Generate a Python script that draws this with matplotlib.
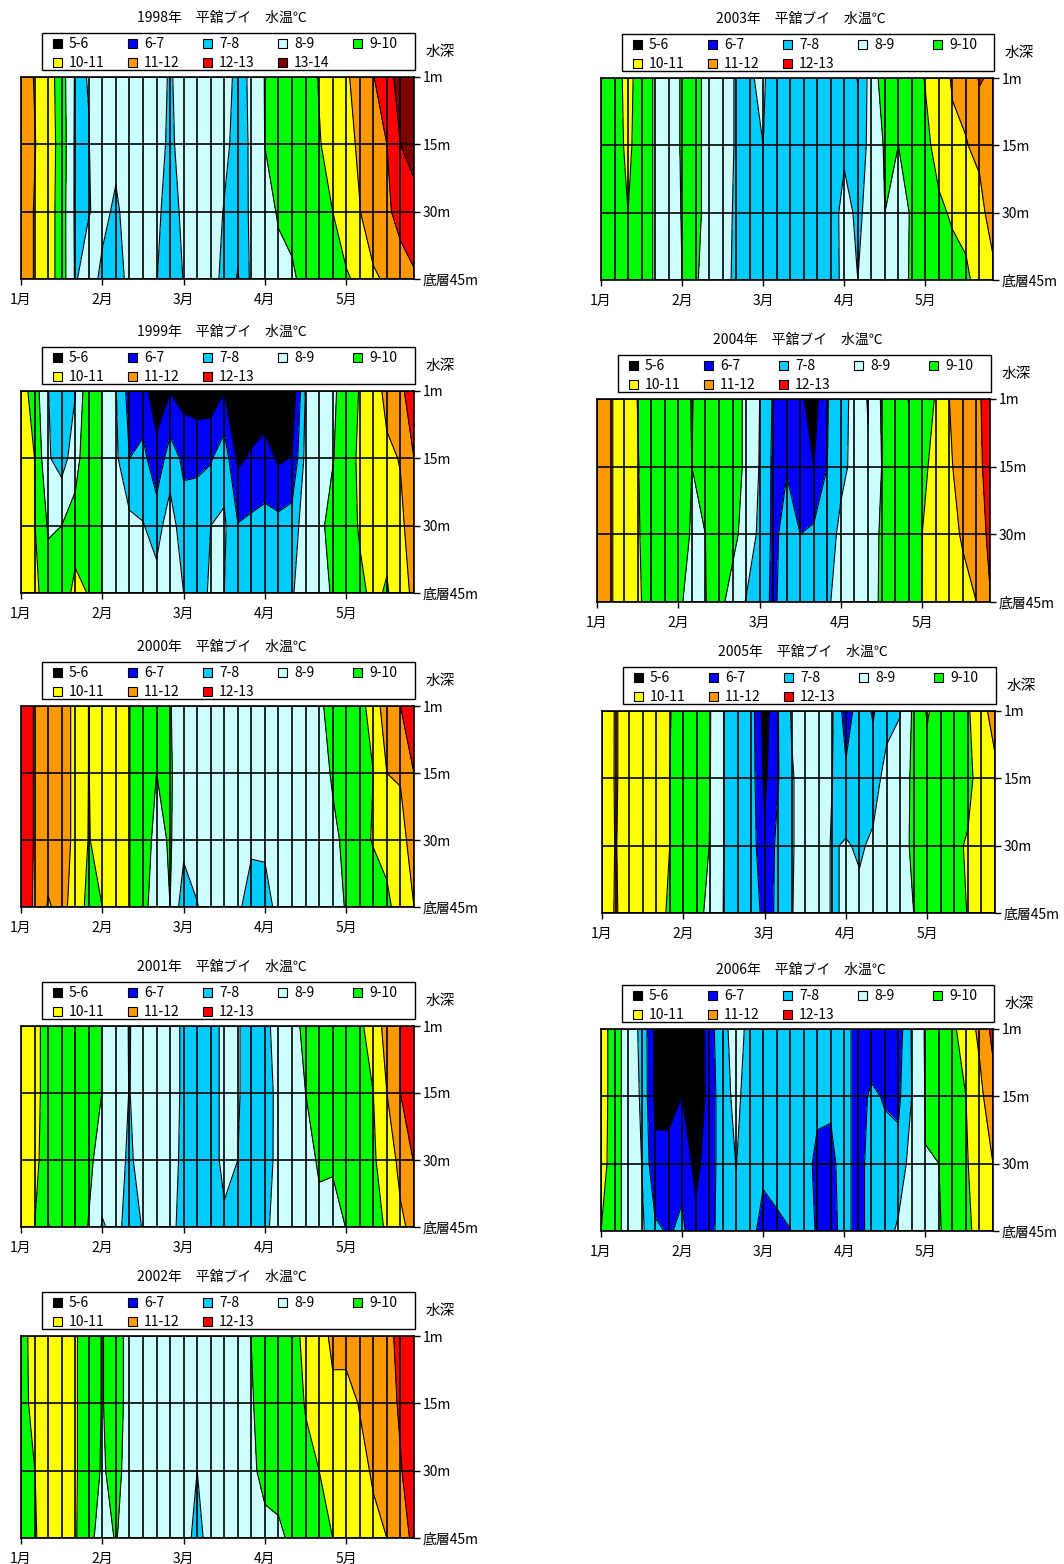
import numpy as np
import matplotlib.pyplot as plt
from matplotlib.patches import Rectangle

plt.rcParams['font.family'] = ['Noto Sans CJK JP', 'DejaVu Sans']

# 軸・凡例
months = ['1月', '2月', '3月', '4月', '5月']
month_pos = [0, 6, 12, 18, 24]
depth_labels = ['1m', '15m', '30m', '底層45m']
band_labels = ['5-6', '6-7', '7-8', '8-9', '9-10', '10-11', '11-12', '12-13', '13-14']
band_colors = ['#000000', '#0000ff', '#00ccff', '#ccffff', '#00ff00',
               '#ffff00', '#ff9900', '#ff0000', '#800000']
levels = list(range(5, 15))

# 水温 (半旬ごと, 1月1半旬〜5月6半旬), 行 = 1m, 15m, 30m, 45m
t1998 = [
    [11.5, 10.95, 10.5, 9.45, 7.9, 8.02, 8.4, 8.5, 8.5, 8.5, 8.4, 7.9, 8.4, 8.5, 8.5, 8.3, 7.8, 8.1, 9.05, 9.4, 9.6, 9.6, 10.05, 10.4, 10.9, 11.3, 11.95, 12.8, 13.2, 13.8],
    [11.5, 11.05, 10.5, 9.6, 7.85, 7.98, 8.4, 8.3, 8.5, 8.5, 8.4, 7.8, 8.4, 8.5, 8.5, 8.2, 7.7, 8.1, 9.02, 9.3, 9.5, 9.6, 9.95, 10.3, 10.8, 11.1, 11.6, 12.0, 13.0, 13.5],
    [11.5, 10.95, 10.5, 9.5, 7.85, 7.95, 8.3, 7.8, 8.5, 8.5, 8.25, 7.5, 8.25, 8.5, 8.4, 7.95, 7.5, 8.15, 8.6, 9.1, 9.3, 9.5, 9.6, 10.0, 10.5, 10.98, 11.4, 11.85, 12.3, 12.5],
    [11.5, 10.95, 10.5, 9.5, 7.9, 8.5, 7.75, 7.5, 8.3, 8.4, 8.05, 7.2, 8.05, 8.5, 8.15, 7.9, 6.9, 8.2, 8.3, 8.7, 8.85, 9.3, 9.4, 9.6, 9.9, 10.2, 10.9, 11.1, 11.6, 11.9],
]
t1999 = [
    [10.5, 9.5, 8.02, 7.5, 7.95, 9.8, 8.95, 8.05, 6.6, 6.3, 5.5, 5.95, 5.6, 5.4, 5.4, 5.95, 5.0, 5.2, 5.3, 5.0, 5.2, 8.1, 8.6, 8.8, 9.5, 10.05, 10.5, 11.3, 11.8, 12.5],
    [10.5, 10.0, 8.1, 7.6, 8.5, 9.95, 8.95, 8.2, 7.0, 7.3, 6.3, 7.5, 6.8, 6.8, 6.9, 7.6, 5.8, 6.15, 6.4, 5.85, 6.05, 8.3, 8.7, 8.95, 9.5, 10.2, 10.6, 10.8, 11.05, 12.0],
    [10.5, 10.05, 8.9, 9.0, 9.5, 9.95, 8.95, 8.6, 8.3, 8.05, 7.6, 8.5, 7.4, 7.5, 8.0, 8.15, 7.05, 7.2, 7.3, 7.3, 7.5, 8.5, 8.8, 9.3, 9.5, 10.1, 10.5, 10.3, 10.8, 11.5],
    [10.5, 10.3, 9.4, 9.4, 10.3, 9.95, 8.95, 8.7, 8.6, 8.5, 8.4, 8.7, 8.0, 7.7, 8.1, 8.0, 7.5, 7.5, 7.5, 7.5, 7.9, 8.6, 8.8, 9.05, 9.5, 9.8, 10.2, 9.9, 10.6, 11.2],
]
t2000 = [
    [12.5, 11.95, 11.5, 11.4, 10.8, 9.98, 10.5, 10.5, 10.02, 9.5, 9.3, 9.05, 8.5, 8.5, 8.5, 8.5, 8.5, 8.5, 8.5, 8.5, 8.6, 8.7, 8.8, 9.4, 9.6, 9.7, 10.4, 11.6, 12.0, 12.6],
    [12.5, 11.95, 11.5, 11.4, 10.8, 9.98, 10.5, 10.5, 10.02, 9.5, 9.0, 9.1, 8.5, 8.5, 8.5, 8.5, 8.5, 8.5, 8.5, 8.5, 8.6, 8.7, 8.8, 9.05, 9.5, 9.8, 10.0, 11.0, 11.1, 12.0],
    [12.5, 11.95, 11.5, 11.4, 10.8, 9.95, 10.4, 10.5, 10.02, 9.5, 8.7, 9.1, 8.3, 8.5, 8.5, 8.5, 8.4, 8.2, 8.2, 8.4, 8.5, 8.6, 8.8, 8.9, 9.1, 9.8, 10.05, 10.3, 10.6, 11.5],
    [12.5, 11.9, 10.9, 11.3, 10.6, 9.7, 10.0, 10.5, 10.02, 9.3, 8.5, 9.0, 7.4, 7.95, 8.5, 8.5, 8.2, 7.5, 7.6, 8.3, 8.5, 8.6, 8.8, 8.7, 9.05, 9.8, 9.6, 9.8, 10.4, 11.0],
]
t2001 = [
    [10.5, 10.3, 9.6, 9.5, 9.5, 9.5, 8.98, 8.5, 7.95, 8.5, 8.5, 8.5, 7.8, 7.5, 7.5, 8.3, 8.1, 7.5, 7.8, 8.3, 8.6, 9.3, 9.6, 9.6, 9.6, 9.8, 10.5, 11.33, 12.0, 12.8],
    [10.5, 10.3, 9.6, 9.5, 9.5, 9.5, 8.98, 8.5, 7.97, 8.5, 8.5, 8.5, 7.8, 7.5, 7.5, 8.3, 8.1, 7.5, 7.6, 8.25, 8.6, 9.0, 9.5, 9.5, 9.5, 9.7, 10.0, 11.0, 12.0, 12.5],
    [10.5, 10.2, 9.6, 9.5, 9.5, 9.2, 8.6, 8.5, 7.8, 8.5, 8.5, 8.5, 7.7, 7.5, 7.5, 8.3, 8.0, 7.5, 7.7, 8.2, 8.6, 8.7, 9.1, 9.1, 9.4, 9.6, 9.9, 10.4, 11.3, 12.05],
    [10.5, 10.0, 8.95, 9.5, 9.5, 8.95, 7.9, 8.3, 7.6, 8.05, 8.5, 8.4, 7.5, 7.5, 7.5, 7.8, 7.5, 7.5, 7.9, 8.2, 8.6, 8.6, 8.8, 8.7, 9.02, 9.5, 9.7, 10.1, 10.8, 11.3],
]
t2002 = [
    [9.5, 10.5, 10.5, 10.5, 10.1, 9.5, 8.95, 9.5, 8.6, 8.5, 8.5, 8.5, 8.5, 8.5, 8.5, 8.5, 8.5, 9.02, 9.5, 9.5, 9.6, 10.3, 10.6, 11.2, 11.3, 11.5, 11.6, 11.8, 12.2, 12.7],
    [9.5, 10.4, 10.5, 10.5, 10.1, 9.5, 8.95, 9.5, 8.6, 8.5, 8.5, 8.5, 8.5, 8.5, 8.5, 8.5, 8.5, 8.9, 9.5, 9.5, 9.6, 10.05, 10.5, 10.8, 10.7, 11.05, 11.4, 11.7, 12.1, 12.6],
    [9.7, 9.98, 10.5, 10.5, 10.1, 9.5, 8.9, 9.3, 8.6, 8.5, 8.5, 8.5, 8.5, 8.0, 8.5, 8.5, 8.5, 8.8, 9.3, 9.4, 9.5, 9.8, 10.0, 10.4, 10.5, 10.75, 11.1, 11.5, 11.95, 12.4],
    [9.5, 9.9, 10.5, 10.5, 10.1, 9.2, 8.7, 9.05, 8.6, 8.5, 8.5, 8.5, 8.5, 7.6, 8.5, 8.5, 8.5, 8.6, 8.7, 8.8, 9.2, 9.5, 9.7, 10.0, 10.3, 10.5, 10.8, 11.0, 11.6, 12.2],
]
t2003 = [
    [9.6, 9.6, 10.3, 9.5, 8.9, 8.5, 9.1, 9.3, 8.6, 8.5, 7.9, 7.95, 8.1, 7.5, 7.5, 7.5, 7.5, 7.5, 7.6, 6.95, 8.5, 9.5, 9.5, 9.6, 10.05, 10.5, 11.1, 11.3, 12.1, 11.8],
    [9.6, 9.6, 10.2, 9.5, 8.9, 8.5, 9.1, 9.3, 8.6, 8.5, 7.9, 7.8, 8.0, 7.5, 7.5, 7.5, 7.5, 7.5, 7.8, 7.5, 8.3, 9.1, 9.0, 9.5, 9.8, 10.3, 10.8, 10.95, 11.25, 11.7],
    [9.6, 9.6, 10.0, 9.5, 8.9, 8.5, 9.05, 9.3, 8.6, 8.5, 7.8, 7.6, 7.6, 7.5, 7.5, 7.5, 7.5, 7.5, 8.35, 7.8, 8.4, 9.0, 8.8, 9.05, 9.5, 9.85, 10.1, 10.25, 10.65, 11.5],
    [9.6, 9.6, 9.5, 9.5, 8.9, 8.5, 9.0, 9.1, 8.6, 8.5, 7.7, 7.5, 7.5, 7.5, 7.5, 7.5, 7.5, 7.5, 8.3, 8.0, 8.5, 8.6, 8.7, 9.1, 9.3, 9.5, 9.7, 9.85, 10.3, 10.7],
]
t2004 = [
    [11.5, 11.1, 10.5, 9.98, 9.5, 9.5, 9.5, 8.95, 9.5, 9.5, 9.5, 8.8, 8.0, 6.9, 6.6, 6.2, 5.5, 6.95, 7.6, 8.3, 7.97, 9.1, 9.5, 8.97, 9.6, 10.05, 11.0, 11.5, 11.7, 12.6],
    [11.5, 11.1, 10.5, 10.05, 9.5, 9.5, 9.5, 9.0, 9.4, 9.5, 9.5, 8.8, 7.95, 6.8, 6.95, 6.5, 6.0, 7.0, 7.7, 8.3, 8.05, 9.0, 9.5, 9.5, 9.85, 10.2, 10.9, 11.3, 11.6, 12.5],
    [11.5, 11.1, 10.5, 10.1, 9.5, 9.5, 9.5, 8.9, 9.0, 9.5, 9.3, 8.6, 7.8, 6.8, 7.3, 7.0, 7.2, 7.4, 8.3, 8.3, 8.6, 9.1, 9.5, 9.5, 10.0, 10.5, 10.7, 11.1, 11.5, 12.2],
    [11.5, 11.1, 10.5, 10.2, 9.5, 9.5, 9.2, 8.6, 8.98, 9.3, 8.6, 7.95, 7.5, 6.8, 7.5, 7.3, 7.4, 7.9, 8.3, 8.3, 8.7, 9.1, 9.5, 9.5, 10.02, 10.5, 10.4, 10.7, 11.0, 11.95],
]
t2005 = [
    [10.1, 11.1, 10.5, 10.5, 10.5, 10.05, 9.5, 9.5, 9.02, 7.98, 7.5, 7.5, 5.5, 6.98, 8.1, 8.5, 8.5, 8.1, 6.5, 7.5, 6.9, 7.6, 7.95, 9.2, 10.1, 9.5, 9.5, 9.9, 10.6, 11.5],
    [10.2, 11.1, 10.5, 10.5, 10.5, 10.0, 9.5, 9.5, 9.0, 7.98, 7.5, 7.5, 5.8, 6.95, 7.9, 8.5, 8.5, 8.0, 7.2, 7.5, 7.5, 8.4, 8.5, 9.2, 9.6, 9.5, 9.5, 9.7, 10.5, 10.7],
    [10.3, 11.05, 10.5, 10.5, 10.5, 10.0, 9.5, 9.5, 8.95, 7.98, 7.5, 7.5, 6.2, 7.3, 7.9, 8.5, 8.5, 7.9, 8.1, 7.85, 8.2, 8.6, 8.7, 9.15, 9.6, 9.5, 9.8, 10.1, 10.5, 10.8],
    [10.3, 11.1, 10.5, 10.5, 10.5, 9.8, 9.5, 9.2, 8.8, 7.95, 7.5, 7.8, 6.6, 7.2, 7.95, 8.5, 8.5, 7.9, 8.1, 8.3, 8.5, 8.6, 8.7, 9.0, 9.6, 9.5, 9.5, 10.05, 10.5, 10.7],
]
t2006 = [
    [10.5, 9.5, 8.5, 7.8, 5.8, 5.3, 5.0, 5.0, 6.5, 7.8, 8.3, 7.8, 7.5, 7.5, 7.5, 7.5, 7.5, 7.5, 7.5, 6.5, 6.2, 6.5, 6.5, 8.1, 9.1, 9.5, 9.8, 10.5, 11.2, 12.3],
    [10.5, 9.5, 8.5, 7.9, 5.8, 5.7, 6.0, 5.3, 6.3, 7.7, 8.2, 7.6, 7.5, 7.5, 7.5, 7.5, 7.3, 7.2, 7.5, 6.5, 7.2, 6.9, 6.8, 8.02, 9.05, 9.5, 9.6, 10.0, 10.75, 11.6],
    [10.4, 9.5, 8.5, 8.0, 6.2, 6.3, 6.7, 5.7, 6.5, 7.5, 8.02, 7.5, 7.25, 7.4, 7.5, 7.5, 6.7, 6.7, 7.5, 6.5, 7.5, 7.4, 7.3, 8.5, 8.98, 9.0, 9.5, 9.9, 10.5, 11.0],
    [10.0, 9.5, 8.5, 8.2, 7.2, 6.9, 7.2, 6.3, 6.7, 7.4, 7.8, 7.4, 6.6, 6.8, 6.98, 7.5, 6.9, 6.5, 7.5, 6.5, 7.5, 7.5, 8.2, 8.6, 8.6, 8.9, 9.5, 9.7, 10.4, 10.5],
]

W, H = 1064, 1564

# (年, データ, 描画域 左,上,右,下 [px], 凡例の項目数)
panels = [
    (1998, t1998, (21, 77, 414, 279), 9),
    (1999, t1999, (21, 391, 414, 593), 8),
    (2000, t2000, (21, 706, 414, 907), 8),
    (2001, t2001, (21, 1026, 414, 1227), 8),
    (2002, t2002, (21, 1336, 414, 1538), 8),
    (2003, t2003, (601, 78, 993, 280), 8),
    (2004, t2004, (597, 399, 990, 602), 8),
    (2005, t2005, (602, 711, 995, 913), 8),
    (2006, t2006, (601, 1029, 993, 1231), 8),
]


def fx(px):
    return px / W


def fy(py):
    return 1 - py / H


def draw_legend(fig, left, top, right, n_items):
    # 凡例の枠
    box_top = top - 44
    box_bot = top - 7
    fig.add_artist(Rectangle((fx(left + 21), fy(box_bot)), (right + 1 - left - 21) / W,
                             (box_bot - box_top) / H, transform=fig.transFigure,
                             facecolor='white', edgecolor='black', lw=1))
    for k in range(n_items):
        row, col = divmod(k, 5)
        cx = left + 32 + col * 75
        cy = top - 34 + row * 19
        fig.add_artist(Rectangle((fx(cx), fy(cy + 4.5)), 9 / W, 9 / H,
                                 transform=fig.transFigure,
                                 facecolor=band_colors[k], edgecolor='black', lw=0.8))
        fig.text(fx(cx + 16), fy(cy + 1), band_labels[k], fontsize=10,
                 ha='left', va='center')
    fig.text(fx(right + 26), fy(top - 25), '水深', fontsize=10.5,
             ha='center', va='center')


fig = plt.figure(figsize=(W / 100, H / 100), dpi=100)

xs = np.arange(30)
ys = np.arange(4)

for year, data, (left, top, right, bottom), n_items in panels:
    Z = np.array(data)
    ax = fig.add_axes([fx(left), fy(bottom), (right - left) / W, (bottom - top) / H])
    ax.contourf(xs, ys, Z, levels=levels, colors=band_colors)
    ax.contour(xs, ys, Z, levels=levels, colors='black', linewidths=0.8)
    for x in xs:
        ax.axvline(x, color='black', lw=1.2)
    for y in ys:
        ax.axhline(y, color='black', lw=1.2)
    ax.set_xlim(0, 29)
    ax.set_ylim(3, 0)
    ax.yaxis.tick_right()
    ax.set_yticks(ys, depth_labels)
    ax.set_xticks(month_pos, months)
    ax.tick_params(length=4, width=1, labelsize=10, pad=2)
    ax.tick_params(axis='x', pad=6)
    for s in ax.spines.values():
        s.set_linewidth(1.2)

    fig.text(fx((left + right) / 2 + 4), fy(top - 59), f'{year}年　平舘ブイ　水温℃',
             fontsize=10, ha='center', va='center')
    draw_legend(fig, left, top, right, n_items)

fig.savefig('out.png', dpi=100)
